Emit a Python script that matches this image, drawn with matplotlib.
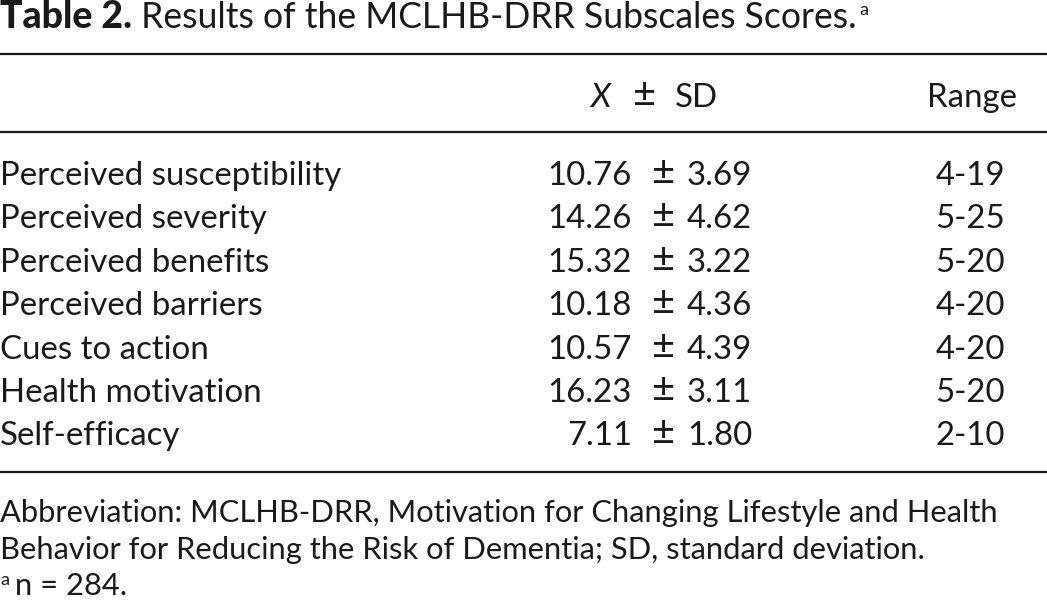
import matplotlib
matplotlib.use("Agg")
import matplotlib.pyplot as plt

plt.rcParams['font.family'] = ['Lato', 'DejaVu Sans']
plt.rcParams['mathtext.fontset'] = 'custom'
plt.rcParams['mathtext.it'] = 'Lato:italic'
plt.rcParams['mathtext.rm'] = 'Lato'

# table content
title_bold = "Table 2."
title_rest = " Results of the MCLHB-DRR Subscales Scores."
subscales = ["Perceived susceptibility", "Perceived severity", "Perceived benefits",
             "Perceived barriers", "Cues to action", "Health motivation", "Self-efficacy"]
means = ["10.76", "14.26", "15.32", "10.18", "10.57", "16.23", "7.11"]
sds = ["3.69", "4.62", "3.22", "4.36", "4.39", "3.11", "1.80"]
ranges = ["4-19", "5-25", "5-20", "4-20", "4-20", "5-20", "2-10"]
notes = ["Abbreviation: MCLHB-DRR, Motivation for Changing Lifestyle and Health",
         "Behavior for Reducing the Risk of Dementia; SD, standard deviation."]
n_note = "n = 284."

W, H = 1047, 600
fig = plt.figure(figsize=(W / 100, H / 100), dpi=100)
ax = fig.add_axes([0, 0, 1, 1])
ax.set_xlim(0, W)
ax.set_ylim(H, 0)
ax.axis('off')

body = 23.8
foot = 22.2
col = '#1a1a1a'

fig.canvas.draw()
r = fig.canvas.get_renderer()

def end_x(t):
    bb = t.get_window_extent(renderer=r)
    return ax.transData.inverted().transform((bb.x1, bb.y0))[0]

# title
t1 = ax.text(0, 28, title_bold, fontsize=27, fontweight='black', va='baseline', color=col)
x = end_x(t1)
t2 = ax.text(x, 28, title_rest, fontsize=25.6, va='baseline', color=col)
x = end_x(t2)
ax.text(x + 3, 15, "a", fontsize=13, va='baseline', color=col)

# rules
for y in [54, 132, 472]:
    ax.plot([0, W], [y, y], color=col, lw=1.6, solid_capstyle='butt')

# header
ax.text(613, 107, r"$X$", fontsize=body, ha='right', va='baseline', color=col)
ax.text(645, 107, "±", fontsize=body + 5, ha='center', va='baseline', color=col)
ax.text(675, 107, "SD", fontsize=body, ha='left', va='baseline', color=col)
ax.text(1017, 107, "Range", fontsize=body, ha='right', va='baseline', color=col)

# rows
for i in range(len(subscales)):
    y = 185 + 43.4 * i
    ax.text(0, y, subscales[i], fontsize=body, va='baseline', color=col)
    ax.text(632, y, means[i], fontsize=body, ha='right', va='baseline', color=col)
    ax.text(664, y, "±", fontsize=body + 5, ha='center', va='baseline', color=col)
    ax.text(687, y, sds[i], fontsize=body, ha='left', va='baseline', color=col)
    ax.text(1005, y, ranges[i], fontsize=body, ha='right', va='baseline', color=col)

# footnotes
for i, s in enumerate(notes):
    ax.text(0, 522 + 36.5 * i, s, fontsize=foot, va='baseline', color=col)
ax.text(0, 585, "a", fontsize=13, va='baseline', color=col)
ax.text(15, 595, n_note, fontsize=foot, va='baseline', color=col)

fig.savefig("out.png", dpi=100)
